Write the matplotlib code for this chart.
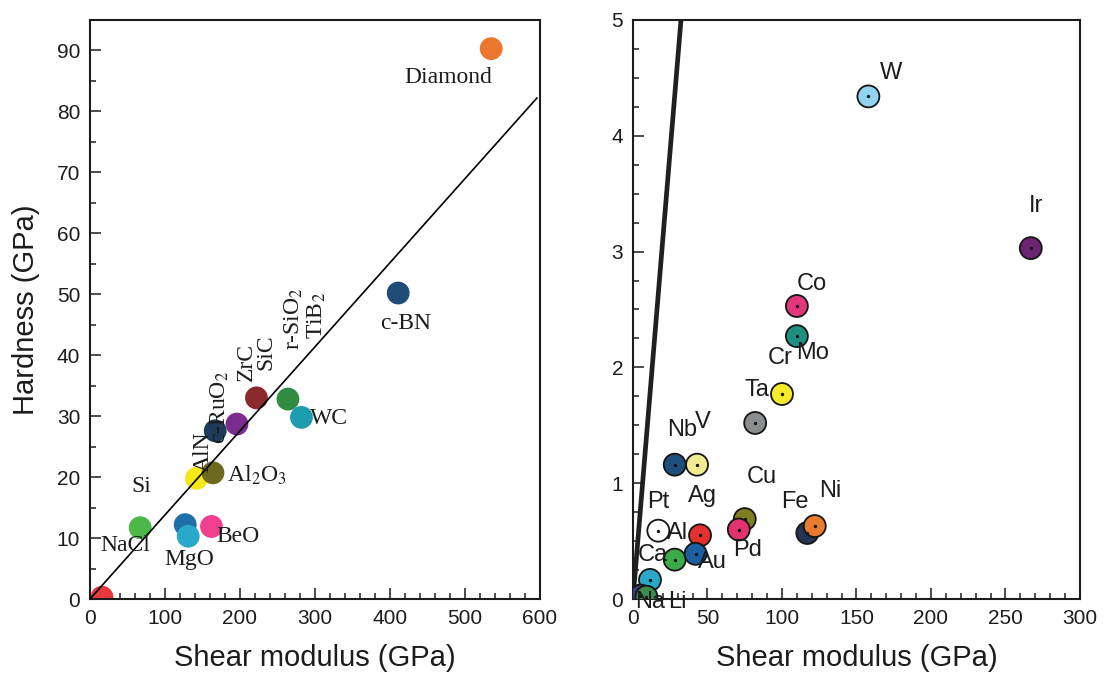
from __future__ import annotations
import matplotlib
matplotlib.use("Agg")
import matplotlib.pyplot as plt
from matplotlib.ticker import MultipleLocator

plt.rcParams['font.family'] = ['Liberation Sans', 'DejaVu Sans']
plt.rcParams['mathtext.fontset'] = 'stix'

# --- ceramics / covalent solids (left panel) ---
ceramic_names = ["NaCl", "Si", "blue", "MgO", "BeO", "AlN", "Al2O3", "c-RuO2",
                 "ZrC", "SiC", "r-SiO2", "WC", "c-BN", "Diamond"]
ceramic_shear = [16, 67, 127, 131, 162, 142, 164, 167, 196, 222, 264, 282, 411, 535]
ceramic_hardness = [0.3, 11.7, 12.2, 10.3, 11.9, 19.8, 20.7, 27.6, 28.7, 33.0,
                    32.8, 29.8, 50.2, 90.3]
ceramic_colors = ["#e8383c", "#4db749", "#1f6fa9", "#2aa8cb", "#ef3f8e", "#f6e71a",
                  "#6d6a1f", "#1f3b5c", "#7a2c8f", "#8a2a2c", "#2f8c40", "#1e9db2",
                  "#1f4d78", "#ea772d"]

# fitted line for the ceramics
ceramic_fit_shear = [0, 596]
ceramic_fit_hardness = [0, 82.2]

# --- metals (right panel) ---
metal_names = ["W", "Ir", "Co", "Mo", "Ta", "Cr", "Nb", "V", "Cu", "Pd", "Fe", "Ni",
               "Pt", "Ag", "Al", "Au", "Ca", "Na", "Li"]
metal_shear = [158, 267, 110, 110, 100, 82, 28, 43, 75, 71, 117, 122,
               17, 45, 28, 42, 11.4, 5, 9]
metal_hardness = [4.34, 3.03, 2.53, 2.27, 1.77, 1.52, 1.16, 1.16, 0.69, 0.60, 0.57, 0.63,
                  0.59, 0.55, 0.34, 0.39, 0.165, 0.03, 0.02]
metal_colors = ["#90d4f2", "#6b2472", "#e1387c", "#1f8f82", "#f6ea2a", "#8b8d8f",
                "#1f4e7b", "#f1ec93", "#7f7f22", "#e1326f", "#243552", "#e97b31",
                "#ffffff", "#e2312f", "#3caa49", "#1d5f9f", "#27a9c7", "#3b3a7b",
                "#3c8c51"]

metal_fit_shear = [0, 32.2]
metal_fit_hardness = [0, 5]

# label text, anchor point, offset in points, rotation
ceramic_labels = [
    ("NaCl", "NaCl", (17, 37), 0),
    ("Si", "Si", (1, 30), 0),
    ("MgO", "MgO", (1, -17), 0),
    ("BeO", "BeO", (19, -7), 0),
    ("AlN", "AlN", (5, 19), 90),
    (r"Al$_2$O$_3$", "Al2O3", (32, -2), 0),
    (r"c-RuO$_2$", "c-RuO2", (3, 17), 90),
    ("ZrC", "ZrC", (7, 45), 90),
    ("SiC", "SiC", (7, 33), 90),
    (r"r-SiO$_2$", "r-SiO2", (4, 58), 90),
    (r"TiB$_2$", "r-SiO2", (21, 60), 90),
    ("WC", "WC", (20, -1), 0),
    ("c-BN", "c-BN", (5, -22), 0),
    ("Diamond", "Diamond", (-31, -21), 0),
]

metal_labels = {
    "W": (16, 17), "Ir": (4, 30), "Co": (11, 16), "Mo": (11, -12), "Ta": (-18, 3),
    "Cr": (18, 47), "Nb": (5, 25), "V": (4, 31), "Cu": (12, 30), "Pd": (6, -15),
    "Fe": (-9, 22), "Ni": (11, 25), "Pt": (0, 21), "Ag": (2, 28), "Al": (2, 19),
    "Au": (12, -6), "Ca": (2, 18), "Na": (7, -5), "Li": (22, -4),
}

TEXT = "#1c1c1c"


def style_axis(ax, xmax, ymax, xmajor, xminor, ymajor, yminor):
    ax.set_xlim(0, xmax)
    ax.set_ylim(0, ymax)
    ax.xaxis.set_major_locator(MultipleLocator(xmajor))
    ax.xaxis.set_minor_locator(MultipleLocator(xminor))
    ax.yaxis.set_major_locator(MultipleLocator(ymajor))
    ax.yaxis.set_minor_locator(MultipleLocator(yminor))
    ax.tick_params(which='both', direction='in', top=False, right=False,
                   width=1.1, colors=TEXT, labelsize=15)
    ax.tick_params(which='major', length=8, pad=7)
    ax.tick_params(which='minor', length=4)
    for sp in ax.spines.values():
        sp.set_linewidth(1.5)
        sp.set_color(TEXT)
    ax.set_xlabel("Shear modulus (GPa)", fontsize=21, color=TEXT, labelpad=12)


def plot_ceramics(ax):
    ax.scatter(ceramic_shear, ceramic_hardness, s=270, c=ceramic_colors,
               linewidths=0, zorder=2)
    ax.plot(ceramic_fit_shear, ceramic_fit_hardness, color='black', lw=1.2, zorder=3)
    idx = {n: i for i, n in enumerate(ceramic_names)}
    for text, anchor, off, rot in ceramic_labels:
        i = idx[anchor]
        ax.annotate(text, (ceramic_shear[i], ceramic_hardness[i]), xytext=off,
                    textcoords='offset points', ha='center', va='center',
                    rotation=rot, fontsize=17, color=TEXT,
                    family=['Liberation Serif', 'DejaVu Serif'], zorder=4)
    style_axis(ax, 600, 95, 100, 20, 10, 5)
    ax.set_ylabel("Hardness (GPa)", fontsize=21, color=TEXT, labelpad=12)


def plot_metals(ax):
    ax.plot(metal_fit_shear, metal_fit_hardness, color='#202020', lw=3.4,
            solid_capstyle='round', zorder=2)
    ax.scatter(metal_shear, metal_hardness, s=250, c=metal_colors,
               edgecolors='#151515', linewidths=1.3, zorder=3)
    ax.scatter(metal_shear, metal_hardness, s=2, c='#151515', zorder=4)
    for i, name in enumerate(metal_names):
        ax.annotate(name, (metal_shear[i], metal_hardness[i]),
                    xytext=metal_labels[name], textcoords='offset points',
                    ha='center', va='center', fontsize=17, color=TEXT, zorder=5)
    style_axis(ax, 300, 5, 50, 10, 1, 0.25)


def main() -> None:
    fig = plt.figure(figsize=(11.08, 6.82), dpi=100)
    ax_left = fig.add_axes([0.0812, 0.1217, 0.4061, 0.849])
    ax_right = fig.add_axes([0.5713, 0.1217, 0.4034, 0.849])
    plot_ceramics(ax_left)
    plot_metals(ax_right)
    fig.savefig("out.png", dpi=100)
    plt.close(fig)


if __name__ == "__main__":
    main()
